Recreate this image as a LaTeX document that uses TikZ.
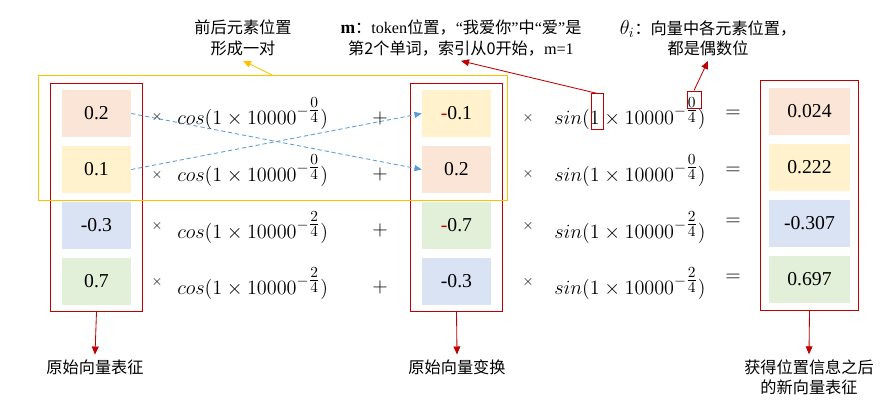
\documentclass[tikz,border=0pt]{standalone}
\usepackage{amsmath}
\usepackage{fontspec}
\setmainfont{Liberation Serif}
\newfontfamily\cjk{Noto Sans CJK SC}
\usetikzlibrary{arrows.meta, positioning, calc, fit}

\definecolor{cellpeach}{HTML}{FBE5D6}
\definecolor{cellyellow}{HTML}{FFF2CC}
\definecolor{cellblue}{HTML}{DAE3F3}
\definecolor{cellgreen}{HTML}{E2F0D9}
\definecolor{boxred}{HTML}{C00000}
\definecolor{pairyellow}{HTML}{FFC000}
\definecolor{swapblue}{HTML}{5B9BD5}

\tikzstyle{cell} = [
    rectangle,
    minimum width = 1.725cm,
    minimum height = 1.175cm,
    inner sep = 0pt,
    font = \fontsize{14}{16}\selectfont,
]
\tikzstyle{widecell} = [cell, minimum width = 2.025cm]
\tikzstyle{redframe} = [draw = boxred, line width = 0.7pt, inner sep = 0pt]
\tikzstyle{formula} = [anchor = base west, inner sep = 0pt, font = \fontsize{15}{18}\selectfont]
\tikzstyle{operator} = [font = \fontsize{15}{18}\selectfont]
\tikzstyle{timesop} = [font = \fontsize{10}{12}\selectfont]
\tikzstyle{note} = [align = center, font = \cjk\fontsize{11.5}{14.5}\selectfont]
\tikzstyle{redarrow} = [draw = boxred, line width = 0.6pt, -{Triangle[length = 2mm, width = 1.7mm]}]
\tikzstyle{swapline} = [draw = swapblue, line width = 0.6pt, dash pattern = on 3pt off 2pt, -{Triangle[length = 1.8mm, width = 1.5mm]}]

\begin{document}
\begin{tikzpicture} [x = 0.025cm, y = -0.025cm, node distance = 1.4cm]
    \useasboundingbox (0, 0) rectangle (894, 405);

    % original vector
    \node (Orig1) [cell, fill = cellpeach] at (96.5, 113.5) {0.2};
    \node (Orig2) [cell, fill = cellyellow, below of = Orig1] {0.1};
    \node (Orig3) [cell, fill = cellblue, below of = Orig2] {-0.3};
    \node (Orig4) [cell, fill = cellgreen, below of = Orig3] {0.7};
    \node (OrigBox) [redframe, fit = (Orig1) (Orig4), inner xsep = 0.27cm, inner ysep = 0.15cm] {};

    % rotated vector
    \node (Rot1) [cell, fill = cellyellow] at (456.5, 113.5) {\textcolor{boxred}{-}0.1};
    \node (Rot2) [cell, fill = cellpeach, below of = Rot1] {0.2};
    \node (Rot3) [cell, fill = cellgreen, below of = Rot2] {\textcolor{boxred}{-}0.7};
    \node (Rot4) [cell, fill = cellblue, below of = Rot3] {-0.3};
    \node (RotBox) [redframe, fit = (Rot1) (Rot4), inner xsep = 0.27cm, inner ysep = 0.15cm] {};

    % result
    \node (New1) [widecell, fill = cellpeach] at (809.5, 111.5) {0.024};
    \node (New2) [widecell, fill = cellyellow, below of = New1] {0.222};
    \node (New3) [widecell, fill = cellblue, below of = New2] {-0.307};
    \node (New4) [widecell, fill = cellgreen, below of = New3] {0.697};
    \node (NewBox) [redframe, fit = (New1) (New4), inner xsep = 0.2cm, inner ysep = 0.18cm] {};

    % pair frame
    \node (Pair) [draw = pairyellow, line width = 0.7pt, minimum width = 11.7cm, minimum height = 3.1cm] at (273, 138) {};

    \draw[swapline] (Orig1.east) -- (Rot2.west);
    \draw[swapline] (Orig2.east) -- (Rot1.west);

    % cos part
    \node (TimesA1) [timesop] at (157, 117) {$\times$};
    \node (TimesA2) [timesop] at (157, 175) {$\times$};
    \node (TimesA3) [timesop] at (157, 226) {$\times$};
    \node (TimesA4) [timesop] at (157, 282) {$\times$};
    \node (Cos1) [formula] at (177, 125) {$cos(1\times10000^{-\tfrac{0}{4}})$};
    \node (Cos2) [formula] at (177, 182) {$cos(1\times10000^{-\tfrac{0}{4}})$};
    \node (Cos3) [formula] at (177, 239) {$cos(1\times10000^{-\tfrac{2}{4}})$};
    \node (Cos4) [formula] at (177, 295) {$cos(1\times10000^{-\tfrac{2}{4}})$};
    \node (Plus1) [operator] at (380, 118) {$+$};
    \node (Plus2) [operator] at (380, 174) {$+$};
    \node (Plus3) [operator] at (380, 230) {$+$};
    \node (Plus4) [operator] at (380, 287) {$+$};

    % sin part
    \node (TimesB1) [timesop] at (528, 118) {$\times$};
    \node (TimesB2) [timesop] at (528, 174) {$\times$};
    \node (TimesB3) [timesop] at (528, 226) {$\times$};
    \node (TimesB4) [timesop] at (528, 282) {$\times$};
    \node (Sin1) [formula] at (554, 125) {$sin(1\times10000^{-\tfrac{0}{4}})$};
    \node (Sin2) [formula] at (554, 182) {$sin(1\times10000^{-\tfrac{0}{4}})$};
    \node (Sin3) [formula] at (554, 239) {$sin(1\times10000^{-\tfrac{2}{4}})$};
    \node (Sin4) [formula] at (554, 295) {$sin(1\times10000^{-\tfrac{2}{4}})$};
    \node (Eq1) [operator] at (733, 114) {$=$};
    \node (Eq2) [operator] at (733, 171) {$=$};
    \node (Eq3) [operator] at (733, 222) {$=$};
    \node (Eq4) [operator] at (733, 278) {$=$};

    \node (OneBox) [redframe, minimum width = 0.3cm, minimum height = 0.875cm] at (597.5, 111.5) {};
    \node (ZeroBox) [redframe, minimum width = 0.35cm, minimum height = 0.425cm] at (694, 99.5) {};

    % notes
    \node (PairNote) [note] at (243, 38) {前后元素位置\\形成一对};
    \node (MNote) [note] at (461, 38) {{\rmfamily\bfseries\fontsize{12.5}{14.5}\selectfont m}：{\rmfamily token}位置，{\rmfamily “}我爱你{\rmfamily ”}中{\rmfamily “}爱{\rmfamily ”}是\\第2个单词，索引从0开始，{\rmfamily m=1}};
    \node (ThetaNote) [note] at (708, 38) {{\fontsize{14}{14.5}\selectfont$\theta_i$}：向量中各元素位置，\\都是偶数位};

    \draw[draw = pairyellow, line width = 0.6pt, -{Triangle[length = 2mm, width = 1.7mm]}] (Pair.north) -- (PairNote.south);
    \draw[redarrow] (OneBox.north) -- (MNote.south);
    \draw[redarrow] (ZeroBox.north) -- (ThetaNote.south);

    \node (OrigLabel) [note] at (95, 367) {原始向量表征};
    \node (RotLabel) [note] at (457, 367) {原始向量变换};
    \node (NewLabel) [note] at (809, 377) {获得位置信息之后\\的新向量表征};

    \draw[redarrow] (OrigBox.south) -- (OrigLabel.north);
    \draw[redarrow] (RotBox.south) -- (RotLabel.north);
    \draw[redarrow] (NewBox.south) -- (NewLabel.north);
\end{tikzpicture}
\end{document}
